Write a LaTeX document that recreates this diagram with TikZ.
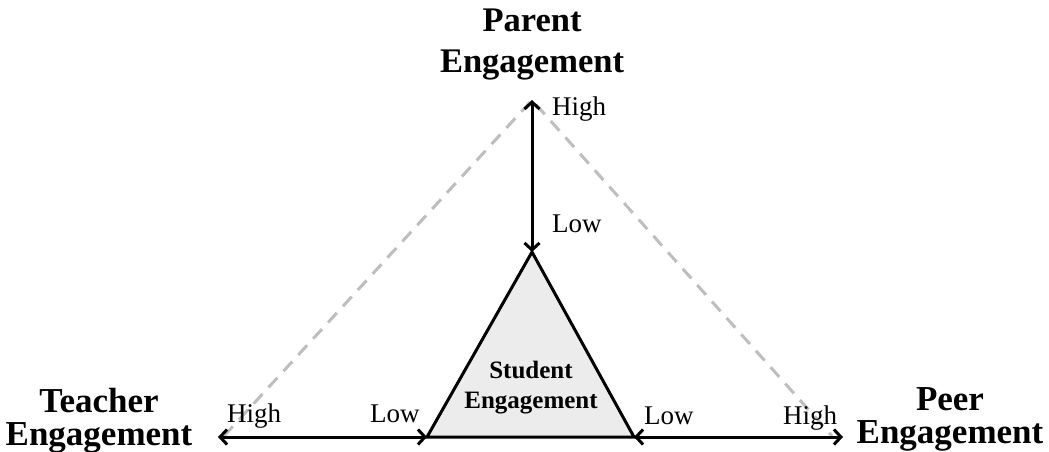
\documentclass[tikz,border=0pt]{standalone}
\usepackage{fontspec}
\setmainfont{Liberation Serif}
\usetikzlibrary{arrows.meta}
\definecolor{dashgray}{RGB}{190,190,190}
\definecolor{trifill}{RGB}{236,236,236}
\tikzset{
  axis/.style={line width=3pt, {Straight Barb[length=7pt,width=15pt]}-{Straight Barb[length=7pt,width=15pt]}},
  guide/.style={draw=dashgray, line width=3pt, dash pattern=on 13pt off 9pt},
  bigtitle/.style={font=\bfseries\fontsize{34.5}{40}\selectfont, align=center, anchor=base, inner sep=0pt},
  sidetitle/.style={font=\bfseries\fontsize{35}{33}\selectfont, align=center, anchor=base, inner sep=0pt},
  level/.style={font=\fontsize{27}{30}\selectfont, anchor=base, inner sep=0pt},
  tri/.style={draw=black, fill=trifill, line width=3pt, line join=miter}
}
\begin{document}
\begin{tikzpicture}[x=1pt,y=-1pt]
\useasboundingbox (0,0) rectangle (1049,452);
% coordinates
\coordinate (apexP) at (532,100);
\coordinate (dashL) at (224,436);
\coordinate (dashR) at (832,436);
\coordinate (triT) at (532,252);
\coordinate (triL) at (427,437);
\coordinate (triR) at (634,437);
\coordinate (endL) at (218,437);
\coordinate (endR) at (843,437);
% dashed guides
\draw[guide] (dashL) -- (apexP) -- (dashR);
% triangle
\draw[tri] (triT) -- (triL) -- (triR) -- cycle;
% axes
\draw[axis] (apexP) -- (triT);
\draw[axis] (endL) -- (triL);
\draw[axis] (triR) -- (endR);
% titles
\node[bigtitle] (parent) at (532,72) {Parent\\Engagement};
\node[sidetitle] (teacher) at (99,445) {Teacher\\Engagement};
\node[sidetitle] (peer) at (950,443) {Peer\\Engagement};
\node[font=\bfseries\fontsize{25}{30}\selectfont, align=center, anchor=base, inner sep=0pt] (student) at (531,408) {Student\\Engagement};
% level labels
\node[level, anchor=base west] (pHigh) at (552,115) {High};
\node[level, anchor=base west] (pLow) at (552,232) {Low};
\node[level, anchor=base west] (tHigh) at (227,422) {High};
\node[level, anchor=base west] (tLow) at (370,422) {Low};
\node[level, anchor=base west] (rLow) at (644,424) {Low};
\node[level, anchor=base west] (rHigh) at (783,424) {High};
\end{tikzpicture}
\end{document}
